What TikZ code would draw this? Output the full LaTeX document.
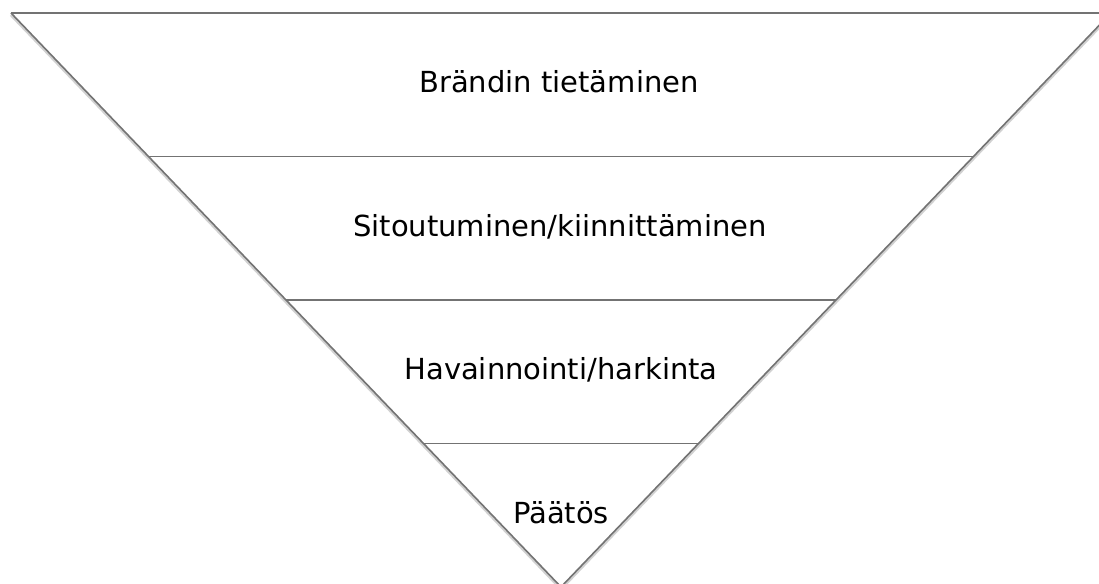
\documentclass[tikz,border=0pt]{standalone}
\usepackage{fontspec}
\setmainfont{DejaVu Sans}
\usetikzlibrary{calc}

\begin{document}
\begin{tikzpicture}[
  x=1pt, y=1pt,
  every node/.style={font=\fontsize{29}{35}\selectfont},
  edge/.style={draw=black!55, line width=1.6pt},
  edgeshadow/.style={draw=black!18, line width=2.8pt},
  stagelabel/.style={anchor=base, inner sep=0pt},
]

% Canvas, the funnel runs past the right and bottom edge
\useasboundingbox (0,0) rectangle (1099,583);
\clip (0,0) rectangle (1099,583);

% Corners of the funnel
\coordinate (topL) at (11,570);
\coordinate (topR) at (1111,570);
\coordinate (tip) at (561,-4);

% Soft shadow under the sides
\draw[edgeshadow] ($(topL)+(0,-2)$) -- ($(tip)+(0,-2)$) -- ($(topR)+(0,-2)$);

% Outline
\draw[edge] (topL) -- (tip) -- (topR);
\draw[edge] (topL) -- (1099,570);

% Dividers at a quarter, half and three quarters of the depth
\foreach \f [count=\i] in {0.25,0.5,0.75} {
  \coordinate (divL\i) at ($(topL)!\f!(tip)$);
  \coordinate (divR\i) at ($(topR)!\f!(tip)$);
  \draw[edge, line width=1.5pt] (divL\i) -- (divR\i);
}

% Stage labels
\node[stagelabel] (brand) at (559,490) {Brändin tietäminen};
\node[stagelabel] (engage) at (560,346) {Sitoutuminen/kiinnittäminen};
\node[stagelabel] (consider) at (561,203) {Havainnointi/harkinta};
\node[stagelabel] (decision) at (561,59) {Päätös};

\end{tikzpicture}
\end{document}
